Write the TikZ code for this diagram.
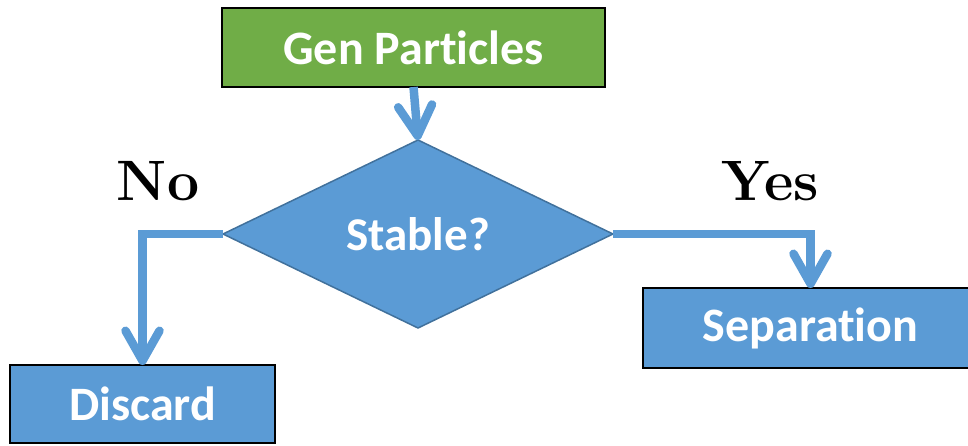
\documentclass[tikz,border=0pt]{standalone}
\usepackage{fontspec}
\newfontfamily\boxfont[Ligatures=NoCommon]{Carlito}
\usetikzlibrary{shapes.geometric,arrows.meta}
\definecolor{flowgreen}{HTML}{70AD47}
\definecolor{flowblue}{HTML}{5B9BD5}
\definecolor{flowedge}{HTML}{41719C}
\tikzset{
  stepbox/.style={draw=black, line width=2.2pt, inner sep=0pt, outer sep=0pt,
    text=white, font=\boxfont\bfseries\fontsize{48}{56}\selectfont},
  decision/.style={diamond, draw=flowedge, line width=1.5pt, fill=flowblue,
    inner sep=0pt, outer sep=0pt, aspect=2.07, text=white,
    font=\boxfont\bfseries\fontsize{47}{56}\selectfont},
  flow/.style={draw=flowblue, line width=8.5pt,
    -{Straight Barb[length=30pt,width=34pt,round]}},
  answer/.style={anchor=base, inner sep=0pt,
    font=\bfseries\fontsize{57}{66}\selectfont}
}
\begin{document}
\begin{tikzpicture}[x=1pt,y=-1pt]
  \useasboundingbox (0,0) rectangle (968,445);
  \node[stepbox, fill=flowgreen, minimum width=383pt, minimum height=79pt] (gen) at (413.5,47.5) {Gen Particles};
  \node[decision, minimum width=390pt, minimum height=188pt] (dia) at (418,234) {Stable?};
  \node[stepbox, fill=flowblue, minimum width=265pt, minimum height=78pt] (disc) at (142.5,404) {Discard};
  \node[stepbox, fill=flowblue, minimum width=335pt, minimum height=80pt] (sep) at (810.5,328) {Separation};
  \node[answer] (no) at (158,200) {No};
  \node[answer] (yes) at (770,200) {Yes};
  \draw[flow] (gen.south) -- (dia.north);
  \draw[flow] (dia.west) -| (disc.north);
  \draw[flow] (dia.east) -| (sep.north);
\end{tikzpicture}
\end{document}
